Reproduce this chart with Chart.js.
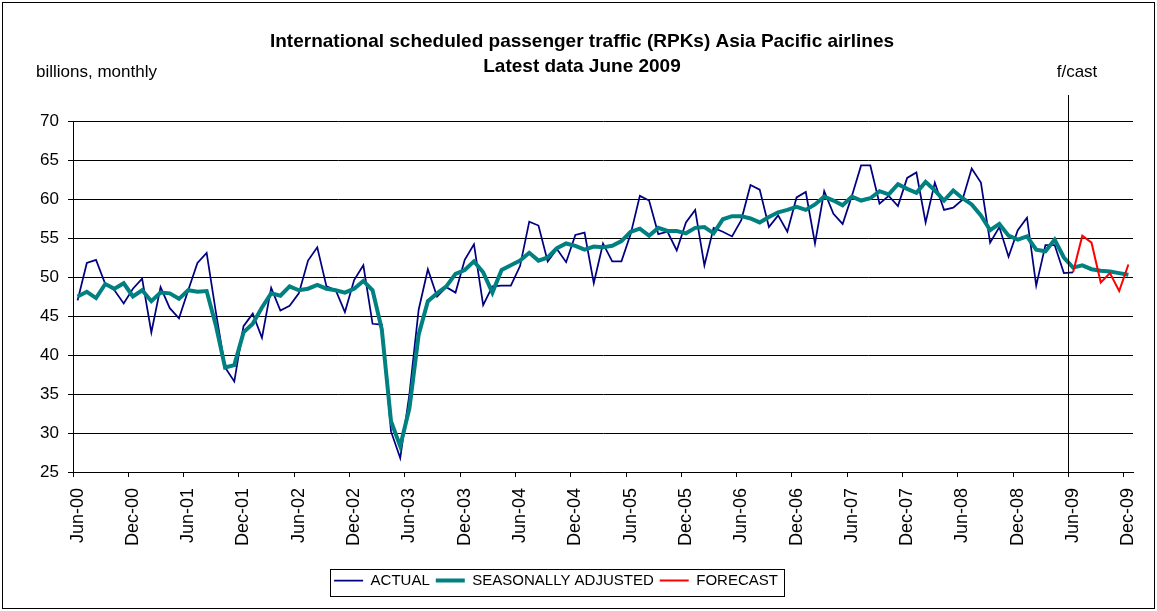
<!DOCTYPE html>
<html>
<head>
<meta charset="utf-8">
<title>International scheduled passenger traffic (RPKs) Asia Pacific airlines</title>
<script src="https://cdn.jsdelivr.net/npm/chart.js@4.4.1/dist/chart.umd.min.js"></script>
<style>
  html, body { margin: 0; padding: 0; background: #fff; }
  #wrap { width: 1157px; height: 611px; }
</style>
</head>
<body>
<div id="wrap"><canvas id="rpkChart" width="1157" height="611"></canvas></div>
<script>
// ---- data (billions of RPKs, monthly) ----
const monthNames = ["Jan","Feb","Mar","Apr","May","Jun","Jul","Aug","Sep","Oct","Nov","Dec"];

// Jun-00 .. Dec-09
const months = [];
for (let y = 2000; y <= 2009; y++) {
  for (let m = 0; m < 12; m++) {
    if (y === 2000 && m < 5) continue;
    months.push(monthNames[m] + "-" + String(y).slice(2));
  }
}

const actual = [
  47.0, 51.8, 52.2, 49.1, 48.3, 46.6, 48.5,             // Jun-00 .. Dec-00
  49.8, 42.9, 48.7, 46.0, 44.7, 48.3, 51.8, 53.1, 45.5, 38.4, 36.6, 43.7, // 2001
  45.3, 42.2, 48.6, 45.7, 46.3, 47.9, 52.1, 53.8, 48.8, 48.3, 45.5, 49.6, // 2002
  51.5, 44.0, 43.9, 30.2, 26.8, 35.0, 45.8, 51.0, 47.5, 48.7, 48.0, 52.2, // 2003
  54.2, 46.4, 48.8, 48.9, 48.9, 51.4, 57.1, 56.6, 52.0, 53.6, 51.9, 55.4, // 2004
  55.7, 49.2, 54.3, 52.0, 52.0, 55.5, 60.4, 59.8, 55.5, 55.8, 53.4, 57.0, // 2005
  58.6, 51.5, 56.3, 55.8, 55.2, 57.3, 61.8, 61.2, 56.4, 57.9, 55.8, 60.2, // 2006
  60.9, 54.3, 61.0, 58.1, 56.8, 60.4, 64.3, 64.3, 59.4, 60.4, 59.1, 62.7, // 2007
  63.4, 57.0, 62.1, 58.6, 58.9, 59.9, 63.9, 62.1, 54.4, 56.4, 52.6, 56.0, // 2008
  57.6, 48.9, 54.1, 54.1, 50.5, 50.6                                      // Jan-09 .. Jun-09
];

const seasonallyAdjusted = [
  47.5, 48.1, 47.3, 49.1, 48.5, 49.2, 47.5,
  48.3, 46.9, 48.0, 47.9, 47.2, 48.3, 48.1, 48.2, 43.8, 38.4, 38.7, 42.9,
  44.0, 46.1, 47.9, 47.6, 48.8, 48.3, 48.5, 49.0, 48.5, 48.3, 48.0, 48.5,
  49.5, 48.3, 43.3, 31.5, 28.3, 33.2, 42.6, 46.9, 47.9, 48.8, 50.4, 50.9,
  52.0, 50.6, 48.0, 50.9, 51.5, 52.1, 53.1, 52.1, 52.5, 53.7, 54.3, 54.0,
  53.5, 53.9, 53.8, 54.0, 54.6, 55.8, 56.2, 55.3, 56.3, 55.9, 55.9, 55.6,
  56.3, 56.4, 55.6, 57.4, 57.8, 57.8, 57.5, 57.0, 57.7, 58.3, 58.6, 59.0,
  58.6, 59.3, 60.3, 59.8, 59.2, 60.3, 59.8, 60.1, 61.0, 60.6, 61.9, 61.3,
  60.8, 62.2, 61.1, 59.8, 61.1, 60.1, 59.3, 57.9, 56.0, 56.8, 55.3, 54.8,
  55.2, 53.5, 53.3, 54.8, 52.5, 51.2, 51.5, 51.0, 50.8, 50.7, 50.5, 50.3
];

// Jun-09 .. Dec-09
const forecast = [50.6, 55.3, 54.4, 49.3, 50.5, 48.2, 51.6];

const yTicks = { min: 25, max: 70, step: 5 };
const forecastStart = "Jun-09";

// pad the short series out to the full month axis
function alignTo(values, startLabel) {
  const start = months.indexOf(startLabel);
  return months.map((_, i) => (i >= start && i - start < values.length) ? values[i - start] : null);
}

const FONT = "'Liberation Sans', Arial, Helvetica, sans-serif";

// extra bits: frame, side notes, forecast divider, legend box
const extras = {
  id: "extras",
  beforeDraw(chart) {
    const t = chart.titleBlock;
    const tw = t.right - t.left;
    t.left = 582 - tw / 2; t.right = t.left + tw;
    const lg = chart.legend;
    const lw = lg.right - lg.left;
    lg.left = 556 - lw / 2; lg.right = lg.left + lw;
  },
  afterDraw(chart) {
    const ctx = chart.ctx;
    const x = chart.scales.x;
    const area = chart.chartArea;
    ctx.save();

    // outer frame
    ctx.strokeStyle = "#000";
    ctx.lineWidth = 1;
    ctx.strokeRect(2.5, 2.5, 1152, 606);

    // forecast divider
    const i = months.indexOf(forecastStart);
    const xf = Math.round((x.getPixelForTick(i - 1) + x.getPixelForTick(i)) / 2) + 0.5;
    ctx.beginPath();
    ctx.moveTo(xf, 95);
    ctx.lineTo(xf, area.bottom);
    ctx.stroke();

    // side notes
    ctx.fillStyle = "#000";
    ctx.font = "17px " + FONT;
    ctx.textBaseline = "alphabetic";
    ctx.textAlign = "left";
    ctx.fillText("billions, monthly", 36, 77);
    ctx.textAlign = "center";
    ctx.fillText("f/cast", 1077, 77);

    // legend frame
    const lg = chart.legend;
    const pad = lg.options.labels.padding;
    const rowW = lg.lineWidths[0];
    const x0 = (lg.left + pad + lg.right - rowW) / 2;
    const x1 = x0 + rowW - pad;
    const cy = (lg.top + lg.bottom) / 2;
    ctx.strokeRect(Math.round(x0 - 4) + 0.5, Math.round(cy - 14) + 0.5, Math.round(x1 - x0 + 10), 27);
    ctx.restore();
  }
};

new Chart(document.getElementById("rpkChart"), {
  type: "line",
  data: {
    labels: months,
    datasets: [
      {
        label: "ACTUAL",
        data: alignTo(actual, "Jun-00"),
        borderColor: "#000080",
        backgroundColor: "#000080",
        borderWidth: 1.75,
        pointRadius: 0,
        order: 2
      },
      {
        label: "SEASONALLY ADJUSTED",
        data: seasonallyAdjusted,
        borderColor: "#008080",
        backgroundColor: "#008080",
        borderWidth: 4,
        pointRadius: 0,
        order: 1
      },
      {
        label: "FORECAST",
        data: alignTo(forecast, forecastStart),
        borderColor: "#ff0000",
        backgroundColor: "#ff0000",
        borderWidth: 2,
        pointRadius: 0,
        order: 0
      }
    ]
  },
  options: {
    responsive: false,
    animation: false,
    spanGaps: false,
    layout: { padding: { left: 0, right: 24, top: 0, bottom: 13 } },
    plugins: {
      title: {
        display: true,
        text: ["International scheduled passenger traffic (RPKs) Asia Pacific airlines", "Latest data June 2009"],
        color: "#000",
        font: { family: FONT, size: 19, weight: "bold", lineHeight: "25px" },
        padding: { top: 29, bottom: 42 }
      },
      legend: {
        position: "bottom",
        labels: {
          color: "#000",
          font: { family: FONT, size: 15 },
          usePointStyle: true,
          pointStyle: "line",
          pointStyleWidth: 29,
          padding: 6,
          sort: (a, b) => a.datasetIndex - b.datasetIndex
        }
      },
      tooltip: { enabled: false }
    },
    scales: {
      x: {
        type: "category",
        offset: true,
        afterFit: (scale) => {
          scale.height = 95;
          scale.paddingLeft = 0;
          scale.paddingRight = 0;
        },
        grid: {
          offset: true,
          drawOnChartArea: false,
          drawTicks: true,
          tickLength: 5,
          color: (c) => (c.index % 6 === 0 ? "#000" : "rgba(0,0,0,0)"),
          tickColor: (c) => (c.index % 6 === 0 ? "#000" : "rgba(0,0,0,0)")
        },
        border: { display: true, color: "#000", width: 1 },
        ticks: {
          autoSkip: false,
          minRotation: 90,
          maxRotation: 90,
          padding: 11,
          color: "#000",
          font: { family: FONT, size: 18 },
          callback: function (value, index) {
            return index % 6 === 0 ? this.getLabelForValue(value) : "";
          }
        }
      },
      y: {
        min: yTicks.min,
        max: yTicks.max,
        afterFit: (scale) => { scale.width = 73; },
        grid: { color: "#000", lineWidth: 1, tickLength: 5, drawTicks: true },
        border: { display: true, color: "#000", width: 1 },
        ticks: {
          stepSize: yTicks.step,
          padding: 9,
          color: "#000",
          font: { family: FONT, size: 17 }
        }
      }
    }
  },
  plugins: [extras]
});
</script>
</body>
</html>
